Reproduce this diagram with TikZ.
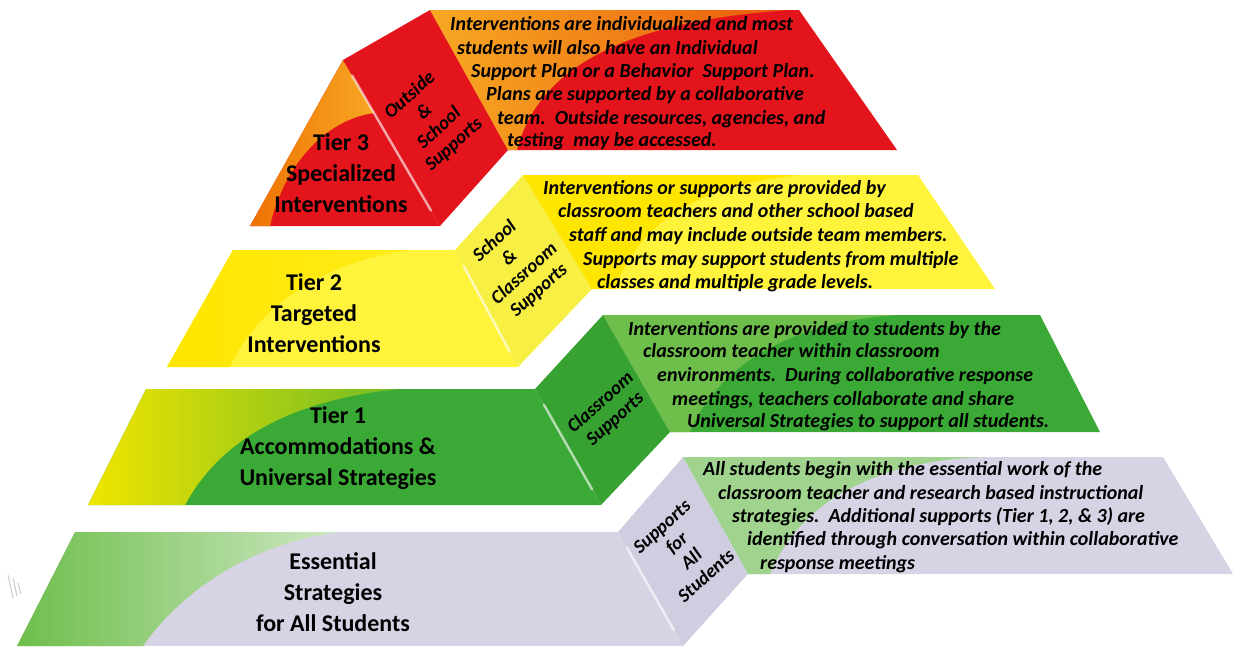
\documentclass[tikz,border=0pt]{standalone}
\usepackage{fontspec}
\setmainfont{Carlito}
\usetikzlibrary{positioning}

\definecolor{tredA}{HTML}{E3141B}
\definecolor{torangeA}{HTML}{EE7203}
\definecolor{torangeB}{HTML}{F7A823}
\definecolor{torangeC}{HTML}{EA5B0C}
\definecolor{tyellowA}{HTML}{FFF33C}
\definecolor{tyellowB}{HTML}{FFE600}
\definecolor{tyellowC}{HTML}{F8EF45}
\definecolor{tgreenA}{HTML}{3AA935}
\definecolor{tgreenB}{HTML}{6EBE4C}
\definecolor{tlime}{HTML}{F0E500}
\definecolor{tlavA}{HTML}{D6D3E5}
\definecolor{tlavB}{HTML}{D0CDE0}
\definecolor{tmint}{HTML}{9FD38E}
\definecolor{tmintB}{HTML}{CDE7C1}

\tikzset{
  tiertitle/.style={align=center, inner sep=0pt, font=\bfseries\fontsize{24}{31}\selectfont},
  sidetext/.style={align=center, inner sep=0pt, rotate=42, font=\bfseries\itshape\fontsize{19}{22}\selectfont},
  desc/.style={anchor=base west, inner sep=0pt, font=\bfseries\itshape\fontsize{20}{23}\selectfont},
  gloss/.style={white, opacity=.6, line width=2.5pt, line cap=round, shorten <=18pt, shorten >=18pt},
}

\begin{document}
\begin{tikzpicture}[x=1pt,y=-1pt]
    \useasboundingbox (0,0) rectangle (1233,646);

    % tier 3 - red
    \fill[tredA] (250,226) -- (343,60) -- (440,226) -- cycle;
    \shade[left color=torangeA, right color=torangeB] (250,226) -- (270,226) .. controls (285,160) and (330,118) .. (375,113) -- (343,60) -- cycle;
    \fill[tredA] (343,60) -- (430,10) -- (508,150) -- (440,226) -- cycle;
    \fill[tredA] (430,10) -- (799,10) -- (897,150) -- (508,150) -- cycle;
    \shade[left color=torangeB, right color=torangeC] (430,10) -- (508,150) -- (517,150) .. controls (540,60) and (640,20) .. (790,10) -- cycle;
    \draw[gloss] (343,60) -- (440,226);

    % tier 2 - yellow
    \fill[tyellowA] (167,367) -- (233,250) -- (455,250) -- (518,367) -- cycle;
    \shade[left color=tyellowB, right color=tyellowB!60!tyellowA] (167,367) -- (233,250) -- (410,250) .. controls (320,262) and (255,310) .. (230,367) -- cycle;
    \fill[tyellowC] (455,250) -- (523,175) -- (592,289) -- (518,367) -- cycle;
    \fill[tyellowA] (523,175) -- (918,175) -- (995,289) -- (592,289) -- cycle;
    \fill[tyellowB] (523,175) -- (800,175) .. controls (700,185) and (640,220) .. (615,289) -- (592,289) -- cycle;
    \draw[gloss] (455,250) -- (518,367);

    % tier 1 - green
    \fill[tgreenA] (88,505) -- (146,389) -- (535,389) -- (601,505) -- cycle;
    \shade[left color=tlime, right color=tgreenA!70!tlime] (88,505) -- (146,389) -- (400,389) .. controls (290,400) and (220,440) .. (185,505) -- cycle;
    \fill[tgreenA!95!black] (535,389) -- (603,315) -- (670,432) -- (601,505) -- cycle;
    \fill[tgreenA] (603,315) -- (1040,315) -- (1100,432) -- (670,432) -- cycle;
    \fill[tgreenB] (603,315) -- (900,315) .. controls (800,320) and (720,360) .. (690,432) -- (670,432) -- cycle;
    \draw[gloss] (535,389) -- (601,505);

    % essential strategies - lavender
    \fill[tlavA] (17,646) -- (75,532) -- (618,532) -- (683,646) -- cycle;
    \shade[left color=tgreenB, right color=tmintB] (17,646) -- (75,532) -- (340,532) .. controls (240,545) and (175,600) .. (143,646) -- cycle;
    \fill[tlavB] (618,532) -- (683,457) -- (748,574) -- (683,646) -- cycle;
    \fill[tlavA] (683,457) -- (1163,457) -- (1233,574) -- (748,574) -- cycle;
    \fill[tmint] (683,457) -- (985,457) .. controls (880,460) and (800,500) .. (770,574) -- (748,574) -- cycle;
    \draw[gloss] (618,532) -- (683,646);

    % small grey mark
    \draw[black!20, line width=1pt] (8,575) -- (13,598) (13,578) -- (17,596) (18,583) -- (21,594);

    % front titles
    \node[tiertitle] (t3title) at (341,173) {Tier 3\\Specialized\\Interventions};
    \node[tiertitle] (t2title) at (314,313) {Tier 2\\Targeted\\Interventions};
    \node[tiertitle] (t1title) at (338,448) {Tier 1\\Accommodations \&\\Universal Strategies};
    \node[tiertitle] (t0title) at (333,592) {Essential\\Strategies\\for All Students};

    % side labels
    \node[sidetext] (t3side) at (432,120) {Outside\\\&\\School\\Supports};
    \node[sidetext] (t2side) at (517,266) {School\\\&\\Classroom\\Supports};
    \node[sidetext] (t1side) at (608,411) {Classroom\\Supports};
    \node[sidetext] (t0side) at (684,551) {Supports\\for\\All\\Students};

    % tier 3 text
    \node[desc] (t3a) at (450,30) {Interventions are individualized and most};
    \node[desc] (t3b) at (457,54) {students will also have an Individual};
    \node[desc] (t3c) at (471,77) {Support Plan or a Behavior\ \ Support Plan.};
    \node[desc] (t3d) at (486,100) {Plans are supported by a collaborative};
    \node[desc] (t3e) at (497,124) {team.\ \ Outside resources, agencies, and};
    \node[desc] (t3f) at (507,146) {testing\ \ may be accessed.};

    % tier 2 text
    \node[desc] (t2a) at (543,194) {Interventions or supports are provided by};
    \node[desc] (t2b) at (558,217) {classroom teachers and other school based};
    \node[desc] (t2c) at (569,241) {staff and may include outside team members.};
    \node[desc] (t2d) at (583,265) {Supports may support students from multiple};
    \node[desc] (t2e) at (597,288) {classes and multiple grade levels.};

    % tier 1 text
    \node[desc] (t1a) at (628,335) {Interventions are provided to students by the};
    \node[desc] (t1b) at (643,357) {classroom teacher within classroom};
    \node[desc] (t1c) at (657,381) {environments.\ \ During collaborative response};
    \node[desc] (t1d) at (672,405) {meetings, teachers collaborate and share};
    \node[desc] (t1e) at (687,427) {Universal Strategies to support all students.};

    % essential text
    \node[desc] (t0a) at (703,475) {All students begin with the essential work of the};
    \node[desc] (t0b) at (718,499) {classroom teacher and research based instructional};
    \node[desc] (t0c) at (732,522) {strategies.\ \ Additional supports (Tier 1, 2, \& 3) are};
    \node[desc] (t0d) at (747,545) {identified through conversation within collaborative};
    \node[desc] (t0e) at (760,569) {response meetings};
\end{tikzpicture}
\end{document}
